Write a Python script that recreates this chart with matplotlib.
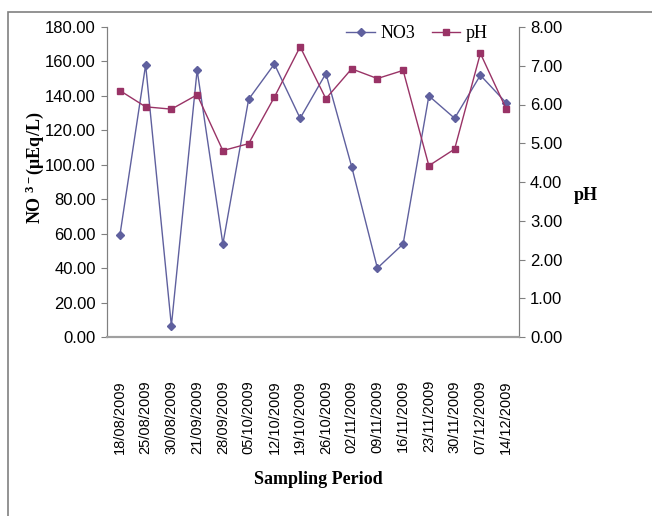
import matplotlib.pyplot as plt
from matplotlib.patches import Rectangle

dates = [
    "18/08/2009", "25/08/2009", "30/08/2009", "21/09/2009",
    "28/09/2009", "05/10/2009", "12/10/2009", "19/10/2009",
    "26/10/2009", "02/11/2009", "09/11/2009", "16/11/2009",
    "23/11/2009", "30/11/2009", "07/12/2009", "14/12/2009",
]
no3 = [59.0, 158.0, 6.5, 155.0, 54.0, 138.0, 158.5, 127.0,
       153.0, 99.0, 40.0, 54.0, 140.0, 127.0, 152.0, 136.0]
ph = [6.36, 5.94, 5.88, 6.25, 4.81, 4.99, 6.19, 7.49,
      6.15, 6.92, 6.67, 6.88, 4.42, 4.85, 7.32, 5.89]

NO3_COLOR = "#5F609E"
PH_COLOR = "#993366"
SERIF = "Liberation Serif"
SANS = "Liberation Sans"

plt.rcParams["mathtext.fontset"] = "custom"
plt.rcParams["mathtext.rm"] = "Liberation Serif:bold"
plt.rcParams["mathtext.it"] = "Liberation Serif:bold"
plt.rcParams["mathtext.bf"] = "Liberation Serif:bold"

W, H = 652, 516
fig = plt.figure(figsize=(W / 100, H / 100), dpi=100)

# chart-area border (runs off the right and bottom edges)
fig.patches.append(Rectangle((8 / W, -0.1), 1.0, 1 - 12 / H + 0.1,
                             transform=fig.transFigure, fill=False,
                             edgecolor="#808080", linewidth=1.2))

ax = fig.add_axes([107 / W, 1 - 337 / H, 412 / W, 310 / H])
ax2 = ax.twinx()

x = list(range(len(dates)))
l1, = ax.plot(x, no3, color=NO3_COLOR, linewidth=1.0, marker="D",
              markersize=4, label="NO3")
l2, = ax2.plot(x, ph, color=PH_COLOR, linewidth=1.0, marker="s",
               markersize=4.5, label="pH")

ax.set_xlim(-0.5, len(dates) - 0.5)
ax.set_ylim(0, 180)
ax2.set_ylim(0, 8)
ax.set_yticks(range(0, 181, 20))
ax.set_yticklabels([f"{v:.2f}" for v in range(0, 181, 20)])
ax2.set_yticks(range(0, 9))
ax2.set_yticklabels([f"{v:.2f}" for v in range(0, 9)])

ax.set_xticks(x)
ax.set_xticklabels(dates, rotation=90, fontfamily=SANS, fontsize=10.5)
ax.tick_params(axis="x", length=0, pad=31)
ax.tick_params(axis="y", length=4, color="#808080", labelsize=12, pad=4)
ax2.tick_params(axis="y", length=4, color="#808080", labelsize=12, pad=4)
for lab in ax.get_yticklabels() + ax2.get_yticklabels():
    lab.set_fontfamily(SANS)

for a in (ax, ax2):
    a.spines["top"].set_visible(False)
    a.spines["left"].set_color("#808080")
    a.spines["right"].set_color("#808080")
    a.spines["bottom"].set_color("#A0A0A0")
    a.spines["bottom"].set_linewidth(1.5)

fig.text(35 / W, 1 - 168 / H, r"NO $^{3-}$(μEq/L)", rotation=90,
         ha="center", va="center", fontfamily=SERIF, fontweight="bold",
         fontsize=13)
fig.text(586 / W, 1 - 196 / H, "pH", ha="center", va="center",
         fontfamily=SERIF, fontweight="bold", fontsize=13)
fig.text(318 / W, 1 - 480 / H, "Sampling Period", ha="center", va="center",
         fontfamily=SERIF, fontweight="bold", fontsize=13)

fig.legend([l1, l2], ["NO3", "pH"], loc="center",
           bbox_to_anchor=(417 / W, 1 - 34 / H), ncol=2, frameon=False,
           handlelength=1.6, handletextpad=0.3, columnspacing=0.9,
           prop={"family": SERIF, "size": 13})

fig.savefig("out.png", dpi=100)
